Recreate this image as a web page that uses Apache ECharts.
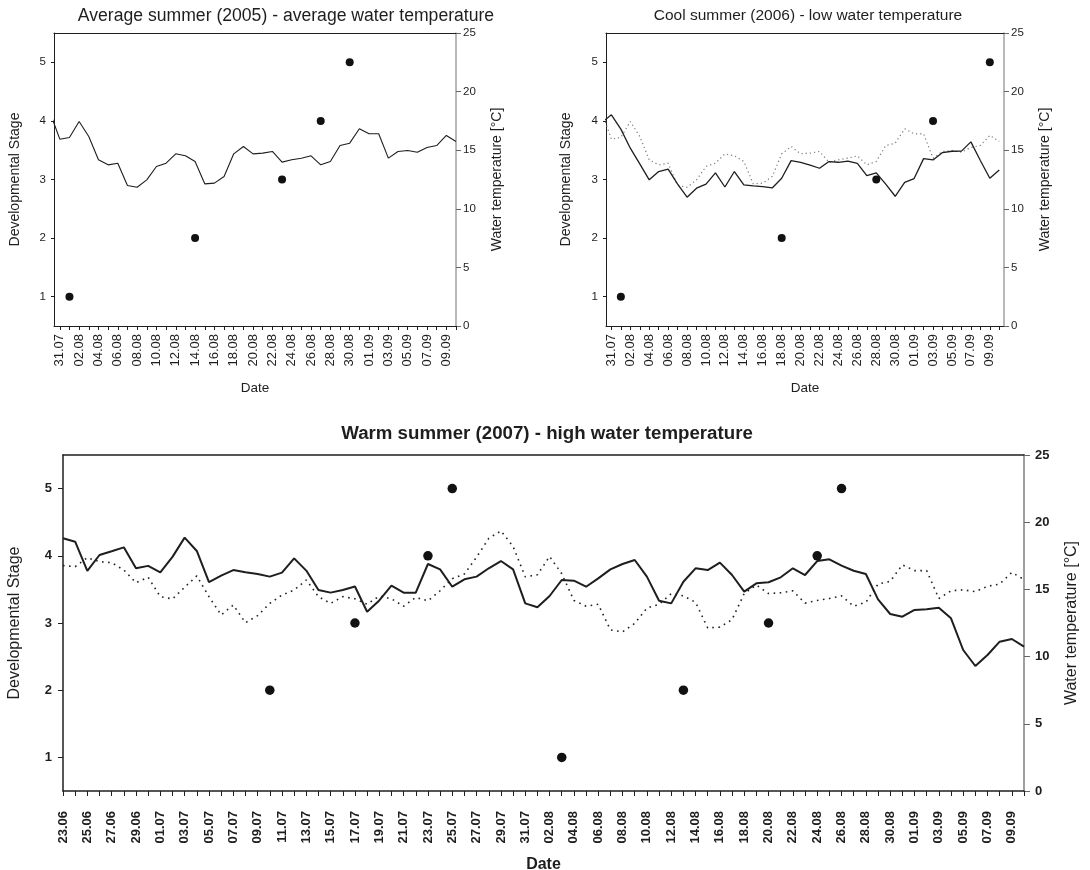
<!DOCTYPE html>
<html><head><meta charset="utf-8">
<script src="https://cdn.jsdelivr.net/npm/echarts@6/dist/echarts.min.js"></script>
<style>html,body{margin:0;padding:0;background:#fff}#c{width:1090px;height:870px}</style>
</head><body><div id="c"></div>
<script>
// ---- tick labels ----
const topTickLabels = ['31.07','02.08','04.08','06.08','08.08','10.08','12.08','14.08','16.08','18.08','20.08','22.08','24.08','26.08','28.08','30.08','01.09','03.09','05.09','07.09','09.09'];
const bottomTickLabels = ['23.06','25.06','27.06','29.06','01.07','03.07','05.07','07.07','09.07','11.07','13.07','15.07','17.07','19.07','21.07','23.07','25.07','27.07','29.07','31.07','02.08','04.08','06.08','08.08','10.08','12.08','14.08','16.08','18.08','20.08','22.08','24.08','26.08','28.08','30.08','01.09','03.09','05.09','07.09','09.09'];
const stageTicks = [1,2,3,4,5];

// ---- water temperature (°C) ----
// 2005, daily from 23.06 to 10.09
const temp2005Start = '23.06';
const temp2005 = [16.77,16.69,17.36,17.06,16.99,16.44,15.50,15.90,14.46,14.29,
 15.16,16.00,14.46,13.10,13.84,12.52,13.05,13.96,14.58,14.95,
 15.70,14.46,13.96,14.46,14.30,13.90,14.50,14.30,13.75,14.40,
 14.15,14.90,15.80,16.15,17.40,18.80,19.35,18.20,15.94,16.09,
 17.45,16.17,14.18,13.75,13.89,11.99,11.84,12.47,13.61,13.89,
 14.69,14.52,14.04,12.13,12.19,12.75,14.69,15.32,14.69,14.75,
 14.89,13.98,14.18,14.32,14.52,13.75,14.04,15.40,15.60,16.83,
 16.40,16.40,14.32,14.89,14.97,14.83,15.23,15.40,16.26,15.74];
// 2006, daily from 30.07 to 10.09
const temp2006Start = '30.07';
const temp2006 = [17.36,18.02,16.80,15.17,13.84,12.47,13.18,13.38,12.10,10.99,
 11.76,12.11,13.07,11.86,13.18,12.04,11.96,11.90,11.78,12.61,
 14.11,13.96,13.72,13.46,14.03,13.97,14.06,13.88,12.83,13.06,
 12.11,11.07,12.25,12.58,14.28,14.17,14.80,14.91,14.92,15.71,
 14.12,12.61,13.32];
// 2007, daily from 23.06 to 10.09
const temp2007Start = '23.06';
const temp2007 = [18.80,18.55,16.38,17.56,17.84,18.13,16.57,16.75,16.26,17.42,
 18.85,17.86,15.54,16.03,16.44,16.27,16.15,15.95,16.25,17.31,
 16.40,14.96,14.76,14.96,15.22,13.34,14.18,15.28,14.76,14.76,
 16.89,16.49,15.20,15.75,15.95,16.57,17.11,16.49,13.96,13.67,
 14.51,15.70,15.65,15.20,15.82,16.49,16.89,17.19,15.95,14.16,
 13.96,15.57,16.57,16.44,16.99,16.07,14.83,15.45,15.53,15.90,
 16.57,16.07,17.11,17.24,16.77,16.39,16.15,14.26,13.17,12.97,
 13.47,13.52,13.64,12.85,10.49,9.30,10.12,11.11,11.31,10.74];

// ---- developmental stages ----
const stage2005Dates = ['01.08','14.08','23.08','27.08','30.08'];
const stage2005 = [1,2,3,4,5];
const stage2006Dates = ['01.08','18.08','28.08','03.09','09.09'];
const stage2006 = [1,2,3,4,5];
const stage2007Dates = ['10.07','17.07','23.07','25.07','03.08','13.08','20.08','24.08','26.08'];
const stage2007 = [2,3,4,5,1,2,3,4,5];

// ---- helpers ----
function dayNum(s){const p=s.split('.').map(Number);return Date.UTC(2007,p[1]-1,p[0])/86400000;}
const topOrigin = dayNum('31.07');
const botOrigin = dayNum('23.06');
function tempPairs(arr,start,origin){const s=dayNum(start)-origin;return arr.map((v,i)=>[s+i,v]);}
function stagePairs(dates,vals,origin){return dates.map((d,i)=>[dayNum(d)-origin,vals[i]]);}

const FONT = "'Liberation Sans', Arial, sans-serif";
const DARK = '#1e1e1e';
const GREY = '#a0a0a0';

const grids = [
  {left:54, top:33, width:402, height:293, outerBoundsMode:'none', containLabel:false},
  {left:606, top:33, width:398, height:293, outerBoundsMode:'none', containLabel:false},
  {left:63, top:455, width:961, height:336, outerBoundsMode:'none', containLabel:false}
];

function makeX(gi, min, max, labels, origin, big){
  const labelPos = labels.map(l=>dayNum(l)-origin);
  const map = {}; labels.forEach((l,i)=>{map[labelPos[i]]=l;});
  const ticks = []; for(let d=Math.ceil(min); d<=Math.floor(max); d++) ticks.push(d);
  return {
    type:'value', gridIndex:gi, min:min, max:max, position:'bottom',
    axisLine:{show:true,onZero:false,lineStyle:{color:DARK,width:big?1.5:1}},
    axisTick:{show:true,customValues:ticks,length:big?5:4,lineStyle:{color:DARK,width:1}},
    axisLabel:{show:true,customValues:labelPos,formatter:v=>map[v]||'',rotate:90,
      fontSize:13,fontWeight:big?'bold':'normal',color:DARK,fontFamily:FONT,margin:big?20:8},
    splitLine:{show:false},
    name:'Date', nameLocation:'middle', nameGap:big?66:55,
    nameTextStyle:{fontSize:big?16:13.5,fontWeight:big?'bold':'normal',color:DARK,fontFamily:FONT}
  };
}
function makeTopBorder(gi,min,max,big){
  return {type:'value',gridIndex:gi,min:min,max:max,position:'top',
    axisLine:{show:true,onZero:false,lineStyle:{color:DARK,width:big?1.5:1}},
    axisTick:{show:false},axisLabel:{show:false},splitLine:{show:false}};
}
function makeYL(gi,big,gap){
  return {type:'value',gridIndex:gi,min:0.5,max:5.5,position:'left',
    axisLine:{show:true,onZero:false,lineStyle:{color:DARK,width:big?1.5:1}},
    axisTick:{show:true,customValues:stageTicks,length:big?5:3,lineStyle:{color:DARK}},
    axisLabel:{customValues:stageTicks,fontSize:big?13:11.5,fontWeight:big?'bold':'normal',color:DARK,fontFamily:FONT,margin:big?11:8},
    splitLine:{show:false},
    name:'Developmental Stage',nameLocation:'middle',nameGap:gap,
    nameTextStyle:{fontSize:big?16:14,color:DARK,fontFamily:FONT}};
}
function makeYR(gi,big,gap){
  return {type:'value',gridIndex:gi,min:0,max:25,interval:5,position:'right',
    axisLine:{show:true,onZero:false,lineStyle:{color:GREY,width:big?2:1.5}},
    axisTick:{show:true,length:big?6:5,lineStyle:{color:'#666'}},
    axisLabel:{fontSize:big?13:11.5,fontWeight:big?'bold':'normal',color:DARK,fontFamily:FONT,margin:big?11:7},
    splitLine:{show:false},
    name:'Water temperature [°C]',nameLocation:'middle',nameGap:gap,
    nameTextStyle:{fontSize:big?16:14,color:DARK,fontFamily:FONT}};
}

const dotStyle = {color:'#111',opacity:1};
const xr = [[-0.6,41],[-0.57,41.5],[0,79]];
const option = {
  backgroundColor:'#fff',
  animation:false,
  title:[
    {text:'Average summer (2005) - average water temperature',left:281,top:2,textAlign:'center',
     textStyle:{fontSize:17.6,fontWeight:'normal',color:DARK,fontFamily:FONT}},
    {text:'Cool summer (2006) - low water temperature',left:803,top:3,textAlign:'center',
     textStyle:{fontSize:15.5,fontWeight:'normal',color:DARK,fontFamily:FONT}},
    {text:'Warm summer (2007) - high water temperature',left:542,top:419,textAlign:'center',
     textStyle:{fontSize:18.7,fontWeight:'bold',color:DARK,fontFamily:FONT}}
  ],
  grid:grids,
  xAxis:[
    makeX(0,xr[0][0],xr[0][1],topTickLabels,topOrigin,false),
    makeX(1,xr[1][0],xr[1][1],topTickLabels,topOrigin,false),
    makeX(2,xr[2][0],xr[2][1],bottomTickLabels,botOrigin,true),
    makeTopBorder(0,xr[0][0],xr[0][1],false),
    makeTopBorder(1,xr[1][0],xr[1][1],false),
    makeTopBorder(2,xr[2][0],xr[2][1],true)
  ],
  yAxis:[
    makeYL(0,false,32), makeYL(1,false,33), makeYL(2,true,40),
    makeYR(0,false,34), makeYR(1,false,34), makeYR(2,true,40)
  ],
  series:[
    {type:'line',xAxisIndex:0,yAxisIndex:3,data:tempPairs(temp2005,temp2005Start,topOrigin),
     symbol:'none',clip:true,lineStyle:{color:DARK,width:1.1},z:2},
    {type:'scatter',xAxisIndex:0,yAxisIndex:0,data:stagePairs(stage2005Dates,stage2005,topOrigin),
     symbolSize:8,itemStyle:dotStyle,z:5},

    {type:'line',xAxisIndex:1,yAxisIndex:4,data:tempPairs(temp2005,temp2005Start,topOrigin),
     symbol:'none',clip:true,lineStyle:{color:'#777',width:1.2,type:[1.2,3]},z:2},
    {type:'line',xAxisIndex:1,yAxisIndex:4,data:tempPairs(temp2006,temp2006Start,topOrigin),
     symbol:'none',clip:true,lineStyle:{color:DARK,width:1.3},z:3},
    {type:'scatter',xAxisIndex:1,yAxisIndex:1,data:stagePairs(stage2006Dates,stage2006,topOrigin),
     symbolSize:8,itemStyle:dotStyle,z:5},

    {type:'line',xAxisIndex:2,yAxisIndex:5,data:tempPairs(temp2005,temp2005Start,botOrigin),
     symbol:'none',clip:true,lineStyle:{color:'#222',width:1.6,type:[1.6,4.5]},z:2},
    {type:'line',xAxisIndex:2,yAxisIndex:5,data:tempPairs(temp2007,temp2007Start,botOrigin),
     symbol:'none',clip:true,lineStyle:{color:DARK,width:2},z:3},
    {type:'scatter',xAxisIndex:2,yAxisIndex:2,data:stagePairs(stage2007Dates,stage2007,botOrigin),
     symbolSize:9.5,itemStyle:dotStyle,z:5}
  ]
};
const chart = echarts.init(document.getElementById('c'),null,{renderer:'canvas'});
chart.setOption(option);
</script>
</body></html>
